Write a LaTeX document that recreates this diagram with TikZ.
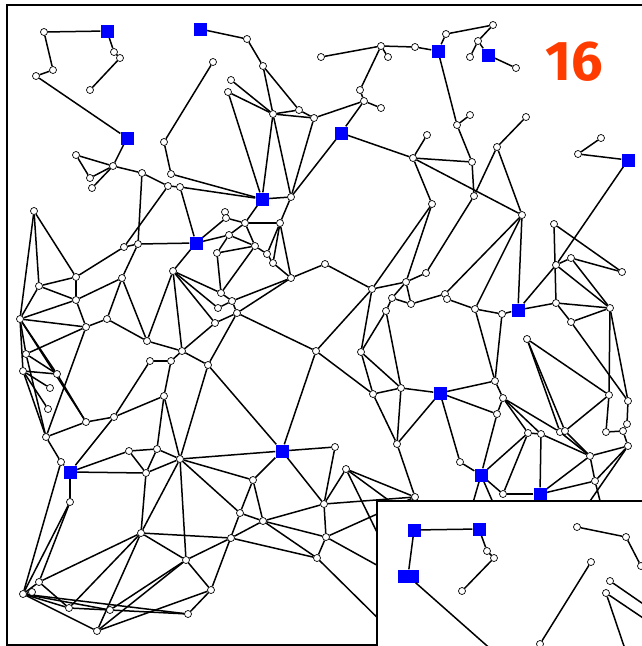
\documentclass[tikz,border=0pt]{standalone}
\usepackage{fontspec}
\usepackage{xcolor}
\usepackage{tikz}
\newfontfamily\numfont{Fira Sans}
\definecolor{numred}{RGB}{255,60,0}
\pgfdeclarelayer{bg}
\pgfsetlayers{bg,main}

\begin{document}
\begin{tikzpicture}[
  x=1pt,y=-1pt,
  vtx/.style={circle,draw,fill=white,inner sep=0pt,minimum size=7pt,line width=0.7pt},
  hub/.style={rectangle,fill=blue,inner sep=0pt,minimum size=13pt},
  wire/.style={line width=1.5pt},
  frame/.style={line width=2pt}
]
\useasboundingbox (0,0) rectangle (642,646);
\clip (0,0) rectangle (642,646);

% relay squares
\foreach \n/\x/\y in {S1/107/31, S2/127/138, S3/200/29, S4/341/133, S5/262/199,
  S6/438/51, S7/488/55, S8/628/160, S9/196/243, S10/282/451, S11/518/310,
  S12/440/393, S13/540/494, S14/481/475, S15/70/472}
  \node[hub] (\n) at (\x,\y) {};

% sensor nodes
\foreach \n/\x/\y in {a1/44/32, a2/114/52, a3/120/58, a4/90/90, a5/53/70, a6/36/76,
  a7/76/155, a8/113/166, a9/90/178, a10/92/188, a11/142/173, a12/168/186,
  a13/180/187, a14/164/142, a15/171/174, a16/213/62, a17/34/211,
  b1/247/39, b2/263/66, b4/231/80, b5/228/92, b6/273/114, b7/299/110, b8/314/118,
  b9/321/57, b10/381/46, b11/415/47, b12/388/57, b13/360/90, b14/364/101,
  b15/381/108, b16/291/197, b17/413/158, b18/427/135, b19/225/212,
  c1/446/34, c2/493/25, c3/478/41, c4/470/57, c5/516/68, c6/457/125, c7/470/115,
  c8/472/162, c9/497/147, c10/526/117, c11/578/154, c12/601/138, c13/474/196,
  c14/522/215}
  \node[vtx] (\n) at (\x,\y) {};
\foreach \n/\x/\y in {d1/124/247, d2/138/244, d3/173/271, d4/76/277, d5/39/286,
  d6/122/278, d7/76/300, d8/20/319, d9/86/327, d10/107/319, d11/147/341,
  d12/26/354, d13/23/371, d14/57/374, d15/50/388, d16/48/409, d17/150/361,
  d18/171/361, d19/182/351, d20/208/365, d21/164/396, d22/114/417, d23/86/422,
  d25/46/437,
  e1/226/218, e2/245/223, e3/280/223, e4/229/235, e5/217/253, e6/255/246,
  e7/267/254, e8/273/263, e9/291/278, e10/221/293, e11/218/308, e12/232/301,
  e13/237/313, e14/215/323, e15/325/264, e16/372/289, e17/316/351, e18/432/204,
  e19/406/282, e20/392/298, e21/411/304, e22/386/311, e23/361/352, e24/401/388,
  e25/373/394, e26/426/273}
  \node[vtx] (\n) at (\x,\y) {};
\foreach \n/\x/\y in {f2/554/224, f3/571/258, f4/556/265, f5/622/272, f6/445/294,
  f7/447/299, f8/475/309, f9/502/314, f10/556/303, f11/610/308, f12/571/322,
  f13/527/339, f14/495/381, f15/503/398, f16/497/414, f17/609/395, f18/628/401,
  f19/627/424,
  g1/460/462, g2/528/433, g3/541/434, g4/560/432, g5/565/431, g6/606/432,
  g7/623/431, g8/628/446, g9/590/456, g10/595/481, g11/503/494,
  h3/61/462, h4/70/502, h5/129/451, h6/157/449, h7/146/473, h8/180/459,
  h9/141/533, h10/186/560, h11/39/582, h12/23/594, h13/32/592, h14/69/608,
  h15/110/610, h16/97/631, h17/188/614, h18/211/590,
  j1/335/447, j2/346/469, j3/253/480, j4/240/513, j5/263/521, j6/324/504,
  j7/326/537, j8/231/538, j9/317/558, j10/415/497, j11/397/444}
  \node[vtx] (\n) at (\x,\y) {};

% ends hidden under the inset
\foreach \n/\x/\y in {x1/470/560, x2/420/620, x3/440/600, x4/400/640, x5/430/560,
  x6/468/520, x7/505/530, x8/570/530, x9/560/540, x10/610/540}
  \coordinate (\n) at (\x,\y);

\begin{pgfonlayer}{bg}
\foreach \u/\v in {a1/S1, a1/a5, a5/a6, a6/S2, S1/a2, a2/a3, a3/a4,
  S2/a8, a7/a8, a7/a9, a9/a8, a8/a10, a8/a11, a11/a12, a12/a13, a13/S5, a15/S5,
  a14/a15, a14/a16, a11/d2, a12/d1, a13/S9,
  S3/b1, b1/b2, b2/b6, b2/b7, b4/b6, b5/b6, b5/S5, b6/b7, b6/b8, b7/b8, b6/b16,
  b6/S5, b8/b16, b16/S4, S4/b14, b8/b14, b13/b14, b13/b10, b14/b15, S4/b17,
  b17/b18, b9/b10, b10/b11, b10/b12, b11/S6,
  S6/c1, c1/c2, c2/c3, c3/c4, c3/S7, S7/c5, S6/c6, c6/c7, c6/c8, c8/b17, c8/c13,
  b17/c14, c9/c10, c9/c13, c9/c14, c11/c12, c11/S8, S8/f4, c13/e26, b17/e18}
  \draw[wire] (\u) -- (\v);
\foreach \u/\v in {S5/b16, S5/e2, b19/e1, S9/e1, S9/e4, S9/d2, S9/d3, e1/e2,
  e2/e3, b16/e3, e4/e2, e4/e6, e2/e6, e5/e4, e5/e6, e5/e10, e6/e10, e6/e7, e7/e8,
  e3/e7, e3/e8, e3/e9, e8/e9, e9/e13, e9/e12, e10/e12, e11/e12, e12/e13, e13/e14,
  e13/e17, e9/e15, e15/e16, d3/e10, d3/e11, d3/e14, d3/d11, d3/d19, d19/e14,
  d20/e13,
  a17/d5, a17/d8, a17/d4, d4/d1, d4/d5, d4/d7, d1/d2, d2/d6, d6/d7, d6/d10,
  d6/d11, d5/d7, d5/d8, d8/d7, d8/d9, d7/d9, d9/d10, d10/d11, d11/d19, d17/d18,
  d18/d19, d19/d20, d18/d21, d21/d22, d22/d23, d17/d22, d8/d12, d8/d13, d8/d14,
  d8/d23, d12/d9, d12/d14, d13/d14, d13/d15, d13/d16, d13/d25, d12/d25, d9/d25,
  d23/d25, d14/d23, d21/h6, d21/h8, d22/S15, d20/S10, e17/S10, h8/d20}
  \draw[wire] (\u) -- (\v);
\foreach \u/\v in {d25/h3, h3/S15, S15/h5, S15/h7, S15/h4, h3/h12, h4/h12, h4/h11,
  h5/h6, h5/h7, h6/h8, h7/h8, h6/h7, h7/h9, h8/h9, h8/h10, h9/h11, h9/h14, h9/h16,
  h9/h10, h10/h16, h10/h15, h10/h18, h11/h12, h12/h14, h12/h15, h12/h16, h12/h17,
  h11/h14, h14/h15, h15/h17, h16/h18, h18/h17, h13/h12,
  h8/S10, h8/j3, h8/j4, h10/j8, h18/j4, j8/h9,
  S10/j1, S10/j3, S10/j6, j1/j6, j2/j6, j2/j10, j3/j4, j3/j5, j4/j5, j5/j6, j5/j7,
  j6/j7, j7/j9, j5/j9, j8/j9, j8/j5, j6/j10, j7/j10, j11/e25, j11/S12, j11/j10,
  e24/j11,
  j2/x1, j2/x2, j7/x3, j9/x4, j10/x5, S14/x6, S14/x7, g8/x8, S13/x9, g10/x10}
  \draw[wire] (\u) -- (\v);
\foreach \u/\v in {e16/e17, e16/e18, e16/e19, e16/e23, e18/e19, e19/e26, e19/e20,
  e19/e21, e20/e21, e20/e22, e22/e23, e22/e24, e23/e24, e23/e25, e25/e24,
  e17/e25, e21/f6,
  c14/f6, c14/f8, c14/S11, f7/f8, f8/f9, f9/S11, S11/f10, S11/f4, f2/f10, f2/f5,
  f3/f5, f4/f3, f4/f11, f3/f11, f10/f11, f10/f12, f12/f11, f9/f14, f8/f14,
  f13/f17, f12/f18, f11/f17, f11/f18, f18/f19, f13/g4, f13/g5,
  S12/f14, S12/f16, S12/e24, S12/g1, f14/f15, f15/f16, f15/g2, f15/g3, f15/g4,
  f17/g6, f17/g5, g6/g7, f19/g7, g4/g9, g5/g9, g9/g10, g9/S13, g10/S13, g8/g10,
  g8/g9, g8/g7, g3/S13, g3/g9, g2/g3, g2/g11, S13/g11, S14/g1, S14/g2, S14/f16,
  S14/g11}
  \draw[wire] (\u) -- (\v);
\end{pgfonlayer}

\draw[frame] (660,5) -- (7,5) -- (7,645) -- (660,645);
\node[font=\numfont\bfseries\fontsize{56}{60}\selectfont,text=numred] (num) at (574,62) {16};

% zoomed inset
\draw[frame,fill=white] (377,501) rectangle (660,660);
\node[hub] (T1) at (414,530) {};
\node[hub] (T2) at (479,529) {};
\node[hub,minimum width=21pt] (T3) at (408,576) {};
\foreach \n/\x/\y in {i1/487/551, i2/494/558, i3/462/591, i4/577/527, i5/626/537,
  i6/641/566, i7/591/562, i8/540/644, i9/610/581, i10/606/593}
  \node[vtx] (\n) at (\x,\y) {};
\foreach \n/\x/\y in {o1/494/652, o2/652/610, o3/652/624, o4/626/652}
  \coordinate (\n) at (\x,\y);
\foreach \u/\v in {T1/T2, T1/T3, T2/i1, i1/i2, i2/i3, T3/o1, i4/i5, i5/i6,
  i7/i8, i9/o2, i10/o3, i10/o4}
  \draw[wire] (\u) -- (\v);
\end{tikzpicture}
\end{document}
